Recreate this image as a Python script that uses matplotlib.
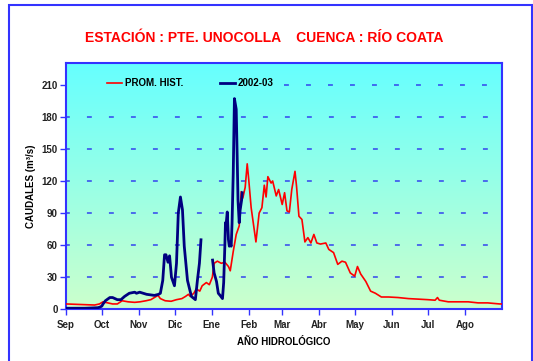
import numpy as np
import matplotlib.pyplot as plt
from matplotlib.patches import Rectangle
from matplotlib.colors import LinearSegmentedColormap

plt.rcParams['font.family'] = ['Liberation Sans', 'DejaVu Sans']
plt.rcParams['font.weight'] = 'bold'

# meses del año hidrológico (dia de inicio de cada mes, desde 1 de setiembre)
meses = ['Sep', 'Oct', 'Nov', 'Dic', 'Ene', 'Feb', 'Mar', 'Abr', 'May', 'Jun', 'Jul', 'Ago']
inicio_mes = [0, 30, 61, 91, 122, 153, 181, 212, 242, 273, 303, 334]
marcas_y = [0, 30, 60, 90, 120, 150, 180, 210]

# promedio historico (dia, caudal m3/s)
prom_dias = [0, 11.7, 24, 28, 31, 35, 39, 43, 47, 52, 57.5, 62, 67, 71, 74, 77, 79, 83, 88,
             92.5, 97, 100, 102.5, 104, 107, 109, 112, 114, 117.5, 120, 122.5, 124, 126.7,
             130, 133, 136, 137.5, 140, 142.5, 145, 146.7, 148, 150, 151.7, 153, 155, 157.5,
             159, 161.7, 164, 166, 167.5, 169, 171.7, 173, 176, 178, 181, 183, 185, 187,
             189, 191.7, 193, 195, 197.5, 200, 202.5, 205, 207.5, 210, 213, 217.5, 220, 224,
             227.5, 231, 234, 238, 241.7, 244, 246.7, 251, 255, 259, 264, 270, 278, 286.7,
             295, 303, 309, 311, 312.5, 320, 328, 336.7, 345, 353, 363, 365]
prom_caudal = [5, 4.5, 4, 5, 7, 6, 5, 5, 8, 7, 6.5, 7, 8, 9, 11, 13, 10, 8, 7.5,
               9, 10, 12, 14, 12, 15, 19, 17, 22, 25, 23, 30, 43, 45,
               43, 44, 40, 36, 54, 70, 78, 110, 104, 114, 136, 121, 95, 75,
               63, 90, 95, 116, 105, 124, 118, 120, 106, 112, 98, 109, 92, 91,
               112, 129, 115, 87, 84, 63, 67, 62, 70, 62, 61, 62, 56, 53,
               42, 45, 44, 34, 31, 40, 33, 26, 17, 15, 11.5, 11.5, 11, 10,
               9.5, 9, 8.5, 11, 8.5, 7, 7, 7, 6, 6, 5, 5]

# año 2002-03 (con vacio de datos a fines de diciembre)
anio_dias = [0, 15.8, 26.7, 28.3, 30, 31, 33, 36.7, 39, 43, 46, 49, 53, 57.5, 59, 61.7,
             67.5, 74, 77.5, 79, 81, 82.5, 83.7, 85.4, 86.7, 88.3, 90.8, 92.5, 94, 95.8,
             97.5, 99, 101.7, 105, 108.3, 110, 111.7, 113, 118,
             122.7, 124, 126, 127.5, 129, 131, 132, 133, 133.5, 134, 135, 136, 136.7,
             137.5, 138.3, 139, 140, 141, 142.5, 143.3, 144, 145, 145.8, 147, 147.5]
anio_caudal = [1, 1, 1.5, 2, 3, 5, 8, 11, 11, 9, 9, 12, 15, 16, 15, 16,
               14, 13, 14, 15, 27, 51, 51, 44, 50, 30, 22, 43, 90, 105,
               93, 59, 27, 12, 9, 27, 43, 65, np.nan,
               46, 34, 26, 15, 13, 10, 25, 60, 81, 79, 91, 65, 59,
               61, 59, 80, 127, 197, 187, 143, 102, 81, 93, 102, 109]

azul = '#3333FF'
azul_guia = '#3344EE'

fig = plt.figure(figsize=(5.33, 3.61), dpi=100)
fig.patches.append(Rectangle((9 / 533, -0.05), 523 / 533, 1.05 - 5 / 361,
                             transform=fig.transFigure, fill=False,
                             edgecolor=azul, lw=1.5))

ax = fig.add_axes([66 / 533, 1 - 309.3 / 361, 436 / 533, 246 / 361])

# fondo degradado celeste -> verde claro
fondo = LinearSegmentedColormap.from_list('fondo', ['#66FFFF', '#CCFFCC'])
ax.imshow(np.linspace(0, 1, 256).reshape(-1, 1), cmap=fondo, aspect='auto',
          extent=(0, 365, 0, 230), zorder=0)

# lineas de referencia punteadas
for v in marcas_y[1:-1]:
    ax.axhline(v, color=azul_guia, lw=1.1, linestyle=(0.7, (3.2, 11.2)), zorder=1)
ax.hlines(210, 182.5, 365, color=azul_guia, lw=1.1, linestyle=(0, (3.2, 11.2)), zorder=1)

ax.plot(prom_dias, prom_caudal, color='#FF0000', lw=1.2, label='PROM. HIST.', zorder=3)
ax.plot(anio_dias, anio_caudal, color='#000080', lw=2, label='2002-03', zorder=4)

ax.set_xlim(0, 365)
ax.set_ylim(0, 230)
ax.set_xticks(inicio_mes)
ax.set_xticklabels(meses)
ax.set_yticks(marcas_y)
ax.tick_params(axis='both', direction='out', length=4, width=1, color=azul,
               labelsize=7, colors='#222222')
ax.tick_params(axis='y', pad=2)
ax.tick_params(axis='x', pad=4)
for s in ax.spines.values():
    s.set_color(azul)
    s.set_linewidth(1.5)

ax.set_ylabel('CAUDALES (m³/s)', fontsize=7, fontweight='bold', labelpad=4)
ax.set_xlabel('AÑO HIDROLÓGICO', fontsize=7, fontweight='bold', labelpad=5)

ax.legend(loc='center left', bbox_to_anchor=(0.075, 0.92), ncol=2, frameon=False,
          fontsize=7, handlelength=1.5, handletextpad=0.3, columnspacing=3.8)

fig.text(0.495, 1 - 38 / 361, 'ESTACIÓN : PTE. UNOCOLLA    CUENCA : RÍO COATA',
         color='#FF0000', fontsize=10, fontweight='bold', ha='center', va='center')

fig.savefig('out.png', dpi=100)
